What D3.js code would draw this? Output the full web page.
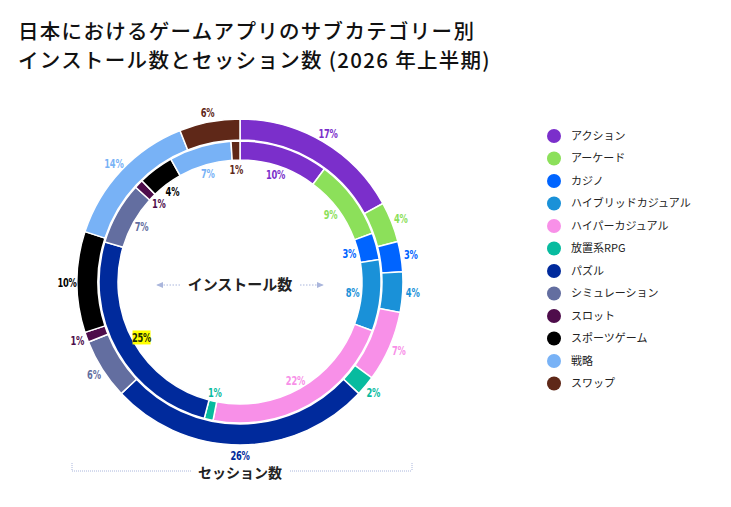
<!DOCTYPE html>
<html>
<head>
<meta charset="utf-8">
<script src="https://cdn.jsdelivr.net/npm/d3@7"></script>
<style>
  body { margin: 0; background: #fff; }
  svg { display: block; }
  .pct { font-family: "DejaVu Sans Condensed", "DejaVu Sans", sans-serif; font-stretch: condensed; font-weight: bold; font-size: 12.5px; }
</style>
</head>
<body>
<div id="chart"></div>
<script>
var categories = ["アクション", "アーケード", "カジノ", "ハイブリッドカジュアル", "ハイパーカジュアル", "放置系RPG",
                  "パズル", "シミュレーション", "スロット", "スポーツゲーム", "戦略", "スワップ"]
var installs = [10, 9, 3, 8, 22, 1, 25, 7, 1, 4, 7, 1]
var sessions = [17, 4, 3, 4, 7, 2, 26, 6, 1, 10, 14, 6]
var colors = ["#7b2fcb", "#8ce05a", "#0064ff", "#1a91d8", "#f890e8", "#08bb9f",
              "#002a9c", "#636ea0", "#4e0d4b", "#000000", "#78b2f6", "#5f2818"]

var width = 731, height = 507
var cx = 240, cy = 282

var svg = d3.select("#chart").append("svg")
    .attr("width", width)
    .attr("height", height)

// title
var title = svg.append("text")
    .attr("x", 18)
    .attr("font-family", "'Noto Sans CJK JP', sans-serif")
    .attr("font-weight", 500)
    .attr("font-size", 20.5)
    .attr("letter-spacing", 1.3)
    .attr("fill", "#111")
title.append("tspan").attr("x", 18).attr("y", 39).text("日本におけるゲームアプリのサブカテゴリー別")
title.append("tspan").attr("x", 18).attr("y", 68).text("インストール数とセッション数 (2026 年上半期)")

var pie = d3.pie().sort(null).value(function(d) { return d.v })

var g = svg.append("g").attr("transform", "translate(" + cx + "," + cy + ")")

function ring(values, inner, outer, labelR, cls) {
    var data = values.map(function(v, i) { return { v: v, i: i } })
    var arc = d3.arc().innerRadius(inner).outerRadius(outer)
    var labelArc = d3.arc().innerRadius(labelR).outerRadius(labelR)
    var slices = pie(data)

    g.selectAll("path." + cls)
        .data(slices)
        .enter().append("path")
        .attr("class", cls)
        .attr("d", arc)
        .attr("fill", function(d) { return colors[d.data.i] })
        .attr("stroke", "#fff")
        .attr("stroke-width", 1.5)

    var labels = g.selectAll("g." + cls + "lbl")
        .data(slices)
        .enter().append("g")
        .attr("class", cls + "lbl")
        .attr("transform", function(d) { return "translate(" + labelArc.centroid(d) + ")" })

    labels.each(function(d) {
        var sel = d3.select(this)
        var hl = cls == "inner" && d.data.i == 6
        if (hl) {
            sel.append("rect")
                .attr("x", -9).attr("y", -7)
                .attr("width", 18).attr("height", 14)
                .attr("fill", "#ffff00")
        }
        sel.append("text")
            .attr("class", "pct")
            .attr("text-anchor", "middle")
            .attr("dy", "0.36em")
            .attr("transform", "scale(0.74,1)")
            .attr("letter-spacing", -0.3)
            .attr("fill", hl ? "#1c2e05" : colors[d.data.i])
            .text(d.data.v + "%")
    })
}

ring(sessions, 142, 163, 173, "outer")
ring(installs, 122, 141, 113, "inner")

// center label
var axisColor = "#aab6dc"
g.append("text")
    .attr("text-anchor", "middle")
    .attr("y", 8)
    .attr("font-family", "'Noto Sans CJK JP', sans-serif")
    .attr("font-weight", "bold")
    .attr("font-size", 15)
    .attr("fill", "#222")
    .text("インストール数")

svg.append("defs").append("marker")
    .attr("id", "arrow")
    .attr("viewBox", "0 0 10 10")
    .attr("refX", 8).attr("refY", 5)
    .attr("markerWidth", 8).attr("markerHeight", 8)
    .attr("orient", "auto-start-reverse")
    .append("path")
    .attr("d", "M0,1 L9,5 L0,9 Z")
    .attr("fill", axisColor)

g.append("line")
    .attr("x1", -60).attr("x2", -83).attr("y1", 3).attr("y2", 3)
    .attr("stroke", axisColor).attr("stroke-dasharray", "1.5,1.5")
    .attr("marker-end", "url(#arrow)")
g.append("line")
    .attr("x1", 60).attr("x2", 83).attr("y1", 3).attr("y2", 3)
    .attr("stroke", axisColor).attr("stroke-dasharray", "1.5,1.5")
    .attr("marker-end", "url(#arrow)")

// session bracket
svg.append("text")
    .attr("x", cx)
    .attr("y", 478)
    .attr("text-anchor", "middle")
    .attr("font-family", "'Noto Sans CJK JP', sans-serif")
    .attr("font-weight", "bold")
    .attr("font-size", 14)
    .attr("fill", "#222")
    .text("セッション数")

var bracket = [[72, 192], [290, 412]]
bracket.forEach(function(b) {
    svg.append("line")
        .attr("x1", b[0]).attr("x2", b[1]).attr("y1", 471).attr("y2", 471)
        .attr("stroke", axisColor).attr("stroke-dasharray", "1,1")
})
;[72, 412].forEach(function(x) {
    svg.append("line")
        .attr("x1", x).attr("x2", x).attr("y1", 463).attr("y2", 471)
        .attr("stroke", axisColor).attr("stroke-dasharray", "1,1")
})

// legend
var legend = svg.append("g").attr("transform", "translate(554,136)")
var item = legend.selectAll("g")
    .data(categories)
    .enter().append("g")
    .attr("transform", function(d, i) { return "translate(0," + (i * 22.5) + ")" })

item.append("circle")
    .attr("r", 7)
    .attr("fill", function(d, i) { return colors[i] })

item.append("text")
    .attr("x", 17)
    .attr("dy", "0.35em")
    .attr("font-family", "'Noto Sans CJK JP', sans-serif")
    .attr("font-size", 11)
    .attr("fill", "#222")
    .text(function(d) { return d })
</script>
</body>
</html>
